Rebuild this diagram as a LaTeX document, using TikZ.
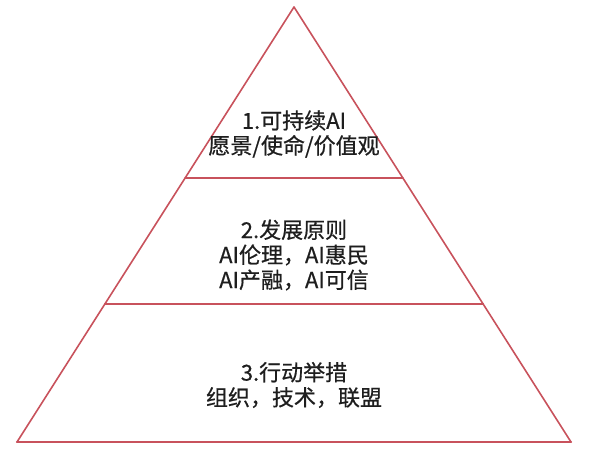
\documentclass[tikz,border=0pt]{standalone}
\usepackage{fontspec}
\newfontfamily\cjk[FakeBold=0.6]{Noto Sans CJK SC}
\usepackage{tikz}
\usetikzlibrary{calc}
\definecolor{pyrred}{RGB}{200,82,92}
\definecolor{tiertext}{RGB}{30,30,30}
\begin{document}
\begin{tikzpicture}[line cap=round,line join=round,x=1pt,y=-1pt,
  edge/.style={draw=pyrred,line width=1.6pt},
  tier/.style={font=\cjk\fontsize{22}{25}\selectfont,text=tiertext,align=center}]
\useasboundingbox (0,0) rectangle (599,456);
\coordinate (apex) at (294,7);
\coordinate (bl) at (17,442);
\coordinate (br) at (571,442);
\coordinate (al) at ($(apex)!0.393!(bl)$);
\coordinate (ar) at ($(apex)!0.393!(br)$);
\coordinate (bbl) at ($(apex)!0.683!(bl)$);
\coordinate (bbr) at ($(apex)!0.683!(br)$);
\draw[edge] (apex)-- (bl);
\draw[edge] (apex)-- (br);
\draw[edge,line width=2.2pt] (bl)-- (br);
\draw[edge] (al)-- (ar);
\draw[edge] (bbl)-- (bbr);
\node[tier] (vision) at (294,134) {1.可持续AI\\愿景/使命/价值观};
\node[tier] (principle) at (294,255) {2.发展原则\\AI伦理，AI惠民\\AI产融，AI可信};
\node[tier] (action) at (294,385) {3.行动举措\\组织，技术，联盟};
\end{tikzpicture}
\end{document}
